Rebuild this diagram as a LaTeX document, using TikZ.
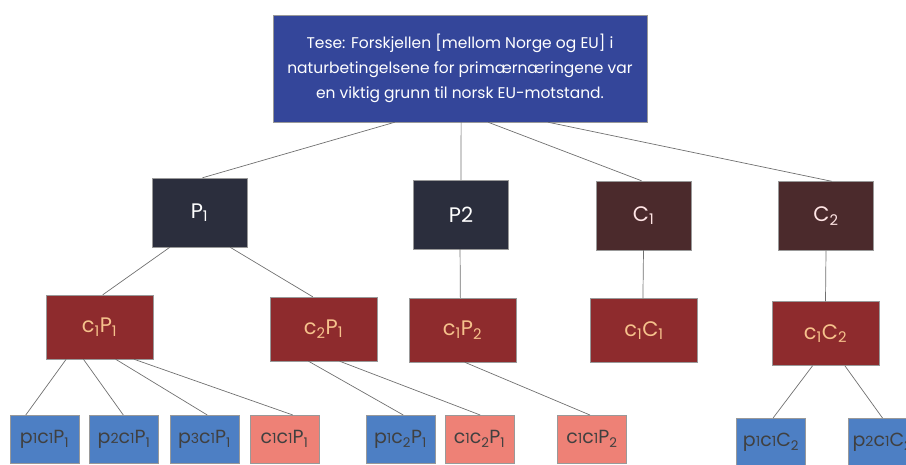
\documentclass[tikz,border=0pt]{standalone}
\usepackage{fontspec}
\setmainfont{Poppins}
\usetikzlibrary{calc}
\definecolor{thesisblue}{HTML}{34469A}
\definecolor{pnavy}{HTML}{2B2E3D}
\definecolor{cbrown}{HTML}{4B2A2C}
\definecolor{midred}{HTML}{8E2B2D}
\definecolor{leafblue}{HTML}{4D7FC4}
\definecolor{leafsalmon}{HTML}{EE8176}
\definecolor{midtext}{HTML}{F6C28C}
\definecolor{linegray}{HTML}{707070}
\tikzstyle{box}=[rectangle,draw=black!40,line width=0.4pt,inner sep=0pt,align=center]
\tikzstyle{thesis}=[box,fill=thesisblue,text=white,minimum width=374pt,minimum height=107pt,font=\fontsize{15.5}{25}\selectfont]
\tikzstyle{pvertex}=[box,fill=pnavy,text=white!92,minimum width=95pt,minimum height=69pt,font=\fontsize{21}{24}\selectfont]
\tikzstyle{cvertex}=[pvertex,fill=cbrown,text=red!10]
\tikzstyle{midvertex}=[box,fill=midred,text=midtext,minimum width=107pt,minimum height=64pt,font=\fontsize{21}{24}\selectfont]
\tikzstyle{leafvertex}=[box,fill=leafblue,text=black!75,minimum width=69pt,minimum height=48pt,anchor=north,font=\fontsize{19}{22}\selectfont]
\tikzstyle{salmonvertex}=[leafvertex,fill=leafsalmon]
\tikzstyle{undirectededge} = [draw,linegray,line width=0.7pt]
\newcommand{\lo}[1]{{\fontsize{14}{16}\selectfont #1}}
\newcommand{\su}[1]{\textsubscript{#1}}

\begin{document}
\begin{tikzpicture}[x=1pt,y=-1pt]
    \useasboundingbox (0,0) rectangle (906,464);
    \clip (0,0) rectangle (906,464);

    \node[thesis] (thesis) at (460,68.5) {Tese: Forskjellen [mellom Norge og EU] i\\naturbetingelsene for primærnæringene var\\en viktig grunn til norsk EU-motstand.};

    % first level
    \node[pvertex] (P1) at (199.5,212.5) {P\su{1}};
    \node[pvertex] (P2) at (461,214.5) {P2};
    \node[cvertex] (C1) at (643.5,215.5) {C\su{1}};
    \node[cvertex] (C2) at (826,216) {C\su{2}};

    % second level
    \foreach \pos/\name/\label in {{(99.5,327)/cAPA/{c\su{1}P\su{1}}}, {(323.5,329)/cBPA/{c\su{2}P\su{1}}}, {(462.5,330)/cAPB/{c\su{1}P\su{2}}}, {(644,330.5)/cACA/{c\su{1}C\su{1}}}, {(825.5,333.5)/cACB/{c\su{1}C\su{2}}}}
        \node[midvertex] (\name) at \pos {\label};

    % leaves
    \foreach \pos/\name/\label in {{(44.5,415)/pAcAPA/{p\lo{1}c\lo{1}P\su{1}}}, {(124,415)/pBcAPA/{p\lo{2}c\lo{1}P\su{1}}}, {(204.5,415)/pCcAPA/{p\lo{3}c\lo{1}P\su{1}}}, {(400.5,415)/pAcBPA/{p\lo{1}c\su{2}P\su{1}}}, {(771,418)/pAcACB/{p\lo{1}c\lo{1}C\su{2}}}, {(882.5,418)/pBcACB/{p\lo{2}c\lo{1}C\su{2}}}}
        \node[leafvertex] (\name) at \pos {\label};
    \foreach \pos/\name/\label in {{(284.5,415)/cAcAPA/{c\lo{1}c\lo{1}P\su{1}}}, {(479.5,415)/cAcBPA/{c\lo{1}c\su{2}P\su{1}}}, {(592,415)/cAcAPB/{c\lo{1}c\lo{1}P\su{2}}}}
        \node[salmonvertex] (\name) at \pos {\label};

    % connectors: source/fraction along bottom edge/dest/fraction along top edge
    \foreach \source/\sf/\dest/\df in {thesis/0.326/P1/0.53, thesis/0.503/P2/0.5, thesis/0.575/C1/0.48, thesis/0.735/C2/0.56,
        P1/0.19/cAPA/0.53, P1/0.82/cBPA/0.40, P2/0.49/cAPB/0.48, C1/0.5/cACA/0.49, C2/0.5/cACB/0.5,
        cAPA/0.19/pAcAPA/0.23, cAPA/0.35/pBcAPA/0.49, cAPA/0.65/pCcAPA/0.54, cAPA/0.82/cAcAPA/0.62,
        cBPA/0.36/pAcBPA/0.54, cBPA/0.65/cAcBPA/0.51, cAPB/0.52/cAcAPB/0.47,
        cACB/0.38/pAcACB/0.53, cACB/0.68/pBcACB/0.5}
        \path[undirectededge] ($(\source.south west)!\sf!(\source.south east)$) -- ($(\dest.north west)!\df!(\dest.north east)$);

\end{tikzpicture}
\end{document}
